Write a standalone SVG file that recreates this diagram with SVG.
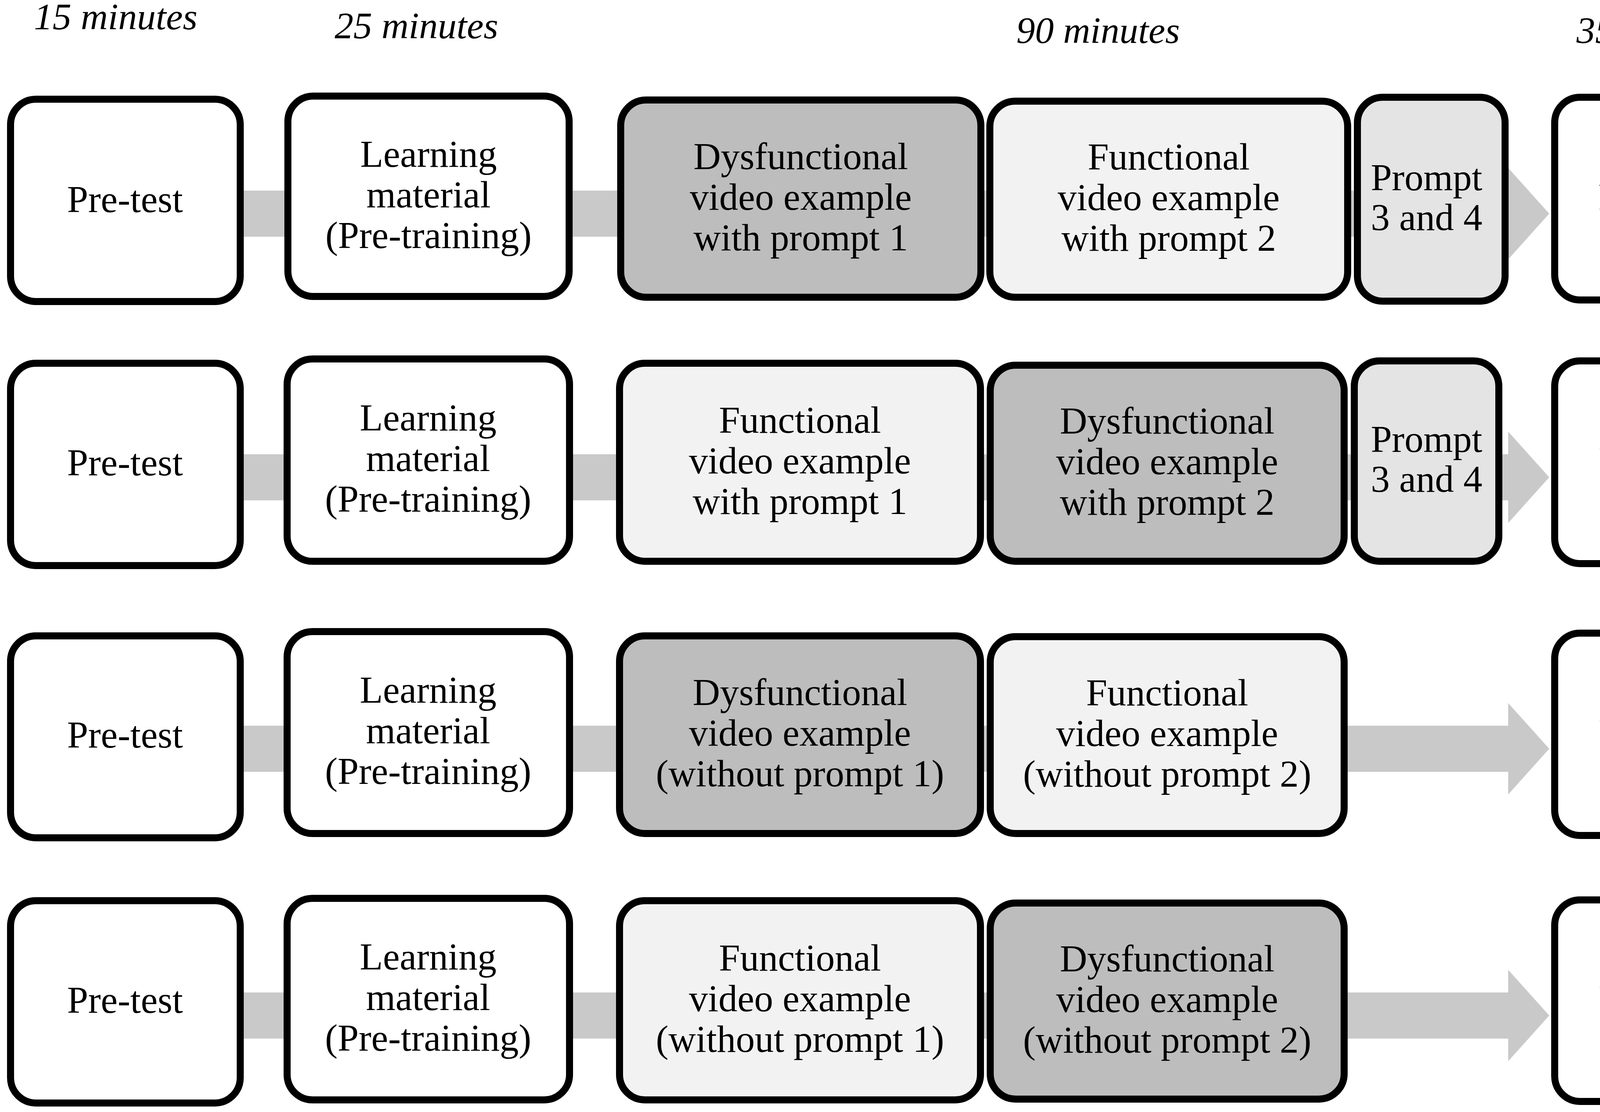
<svg xmlns="http://www.w3.org/2000/svg" width="4562" height="2847" viewBox="0 0 4562 2847">
<style>
.bx{stroke:#000;stroke-width:18;}
.w{fill:#fff;}
.d{fill:#bdbdbd;}
.f{fill:#f2f2f2;}
.p{fill:#e4e4e4;}
.t{font-family:"Liberation Serif","Times New Roman",serif;font-size:97px;fill:#000;text-anchor:middle;}
.h{font-family:"Liberation Serif","Times New Roman",serif;font-size:96px;font-style:italic;fill:#000;text-anchor:middle;}
.ar{fill:#c9c9c9;}
</style>
<rect width="4562" height="2847" fill="#fff"/>
<g id="headers">
<text class="h" x="296" y="75">15 minutes</text>
<text class="h" x="1066" y="98">25 minutes</text>
<text class="h" x="2811" y="110">90 minutes</text>
<text class="h" x="4245" y="110">35 minutes</text>
</g>
<g id="connectors">
<path class="ar" d="M600,488 L3861,488 L3861,430 L3966,547 L3861,664 L3861,606 L600,606 Z"/>
<path class="ar" d="M600,1163 L3861,1163 L3861,1105 L3966,1222 L3861,1339 L3861,1281 L600,1281 Z"/>
<path class="ar" d="M600,1858 L3861,1858 L3861,1800 L3966,1917 L3861,2034 L3861,1976 L600,1976 Z"/>
<path class="ar" d="M600,2541 L3861,2541 L3861,2483 L3966,2600 L3861,2717 L3861,2659 L600,2659 Z"/>
</g>
<!-- Row 1 -->
<g id="r1-pretest"><rect class="bx w" x="27" y="254" width="588" height="518" rx="65"/><text class="t" x="320" y="543">Pre-test</text></g>
<g id="r1-learning"><rect class="bx w" x="737" y="246" width="720" height="513" rx="65"/><text class="t" x="1097" y="427">Learning</text><text class="t" x="1097" y="531">material</text><text class="t" x="1097" y="635">(Pre-training)</text></g>
<g id="r1-dys"><rect class="bx d" x="1589" y="256" width="922" height="505" rx="65"/><text class="t" x="2050" y="433">Dysfunctional</text><text class="t" x="2050" y="537">video example</text><text class="t" x="2050" y="641">with prompt 1</text></g>
<g id="r1-func"><rect class="bx f" x="2534" y="259" width="916" height="502" rx="65"/><text class="t" x="2992" y="434">Functional</text><text class="t" x="2992" y="538">video example</text><text class="t" x="2992" y="642">with prompt 2</text></g>
<g id="r1-prompt"><rect class="bx p" x="3475" y="249" width="378" height="522" rx="65"/><text class="t" x="3652" y="487">Prompt</text><text class="t" x="3652" y="589">3 and 4</text></g>
<g id="r1-posttest"><rect class="bx w" x="3980" y="249" width="559" height="519" rx="65"/><text class="t" x="4259" y="537">Post-test</text></g>
<!-- Row 2 -->
<g id="r2-pretest"><rect class="bx w" x="27" y="930" width="588" height="518" rx="65"/><text class="t" x="320" y="1217">Pre-test</text></g>
<g id="r2-learning"><rect class="bx w" x="735" y="919" width="723" height="518" rx="65"/><text class="t" x="1096" y="1102">Learning</text><text class="t" x="1096" y="1206">material</text><text class="t" x="1096" y="1310">(Pre-training)</text></g>
<g id="r2-func"><rect class="bx f" x="1586" y="930" width="924" height="507" rx="65"/><text class="t" x="2048" y="1108">Functional</text><text class="t" x="2048" y="1212">video example</text><text class="t" x="2048" y="1316">with prompt 1</text></g>
<g id="r2-dys"><rect class="bx d" x="2535" y="935" width="906" height="502" rx="65"/><text class="t" x="2988" y="1110">Dysfunctional</text><text class="t" x="2988" y="1214">video example</text><text class="t" x="2988" y="1318">with prompt 2</text></g>
<g id="r2-prompt"><rect class="bx p" x="3467" y="924" width="370" height="513" rx="65"/><text class="t" x="3652" y="1157">Prompt</text><text class="t" x="3652" y="1259">3 and 4</text></g>
<g id="r2-posttest"><rect class="bx w" x="3980" y="924" width="561" height="519" rx="65"/><text class="t" x="4260" y="1212">Post-test</text></g>
<!-- Row 3 -->
<g id="r3-pretest"><rect class="bx w" x="27" y="1628" width="588" height="517" rx="65"/><text class="t" x="320" y="1914">Pre-test</text></g>
<g id="r3-learning"><rect class="bx w" x="735" y="1617" width="723" height="517" rx="65"/><text class="t" x="1096" y="1799">Learning</text><text class="t" x="1096" y="1903">material</text><text class="t" x="1096" y="2007">(Pre-training)</text></g>
<g id="r3-dys"><rect class="bx d" x="1586" y="1628" width="924" height="506" rx="65"/><text class="t" x="2048" y="1805">Dysfunctional</text><text class="t" x="2048" y="1909">video example</text><text class="t" x="2048" y="2013">(without prompt 1)</text></g>
<g id="r3-func"><rect class="bx f" x="2535" y="1630" width="906" height="504" rx="65"/><text class="t" x="2988" y="1806">Functional</text><text class="t" x="2988" y="1910">video example</text><text class="t" x="2988" y="2014">(without prompt 2)</text></g>
<g id="r3-posttest"><rect class="bx w" x="3980" y="1621" width="561" height="518" rx="65"/><text class="t" x="4260" y="1908">Post-test</text></g>
<!-- Row 4 -->
<g id="r4-pretest"><rect class="bx w" x="27" y="2306" width="588" height="518" rx="65"/><text class="t" x="320" y="2593">Pre-test</text></g>
<g id="r4-learning"><rect class="bx w" x="735" y="2300" width="723" height="516" rx="65"/><text class="t" x="1096" y="2482">Learning</text><text class="t" x="1096" y="2586">material</text><text class="t" x="1096" y="2690">(Pre-training)</text></g>
<g id="r4-func"><rect class="bx f" x="1586" y="2306" width="924" height="510" rx="65"/><text class="t" x="2048" y="2485">Functional</text><text class="t" x="2048" y="2589">video example</text><text class="t" x="2048" y="2693">(without prompt 1)</text></g>
<g id="r4-dys"><rect class="bx d" x="2535" y="2312" width="906" height="502" rx="65"/><text class="t" x="2988" y="2487">Dysfunctional</text><text class="t" x="2988" y="2591">video example</text><text class="t" x="2988" y="2695">(without prompt 2)</text></g>
<g id="r4-posttest"><rect class="bx w" x="3980" y="2304" width="561" height="516" rx="65"/><text class="t" x="4260" y="2590">Post-test</text></g>
</svg>
